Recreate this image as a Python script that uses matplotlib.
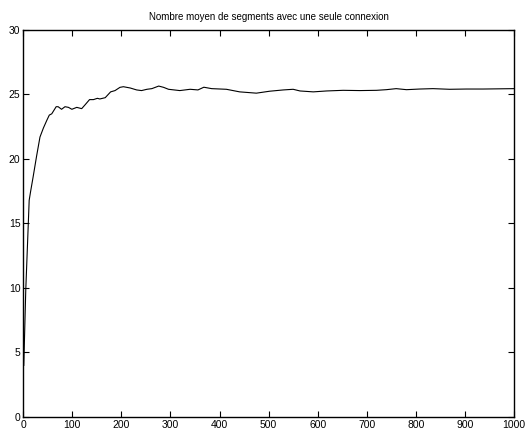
import matplotlib
matplotlib.use('Agg')
import matplotlib.pyplot as plt

# Values
x = [1, 5, 12, 15, 20, 27, 34, 41, 48, 53, 58, 67, 71, 78, 85, 92, 99, 109, 119, 126,
     135, 143, 151, 156, 167, 178, 187, 197, 204, 218, 231, 241, 252, 262, 276, 286,
     296, 319, 340, 356, 368, 384, 414, 441, 475, 502, 530, 550, 564, 591, 618, 652,
     686, 720, 740, 760, 781, 808, 835, 869, 903, 937, 1000]
y = [4.0, 9.8, 16.8, 17.5, 18.6, 20.2, 21.7, 22.4, 23.0, 23.4, 23.5, 24.05, 24.05, 23.85,
     24.05, 24.0, 23.85, 24.0, 23.9, 24.2, 24.6, 24.6, 24.7, 24.65, 24.75, 25.2, 25.3,
     25.55, 25.6, 25.5, 25.35, 25.3, 25.4, 25.45, 25.65, 25.55, 25.4, 25.3, 25.4, 25.35,
     25.56, 25.45, 25.4, 25.2, 25.1, 25.25, 25.35, 25.4, 25.27, 25.2, 25.27, 25.32,
     25.3, 25.32, 25.37, 25.45, 25.37, 25.42, 25.45, 25.4, 25.42, 25.42, 25.45]

title = 'Nombre moyen de segments avec une seule connexion'

plt.rcParams['font.family'] = 'Liberation Sans'

fig = plt.figure(figsize=(5.27, 4.32), dpi=100)
ax = fig.add_axes([0.0442, 0.0347, 0.931, 0.896])
ax.plot(x, y, color='black', linewidth=0.8)

ax.set_xlim(0, 1000)
ax.set_ylim(0, 30)
ax.set_xticks(range(0, 1001, 100))
ax.set_yticks(range(0, 31, 5))
ax.tick_params(direction='in', top=True, right=True, labelsize=7.5, length=4, width=0.8, pad=2)
for s in ax.spines.values():
    s.set_linewidth(1.0)
ax.set_title(title, fontsize=7, pad=7)

fig.savefig('out.png', dpi=100)
